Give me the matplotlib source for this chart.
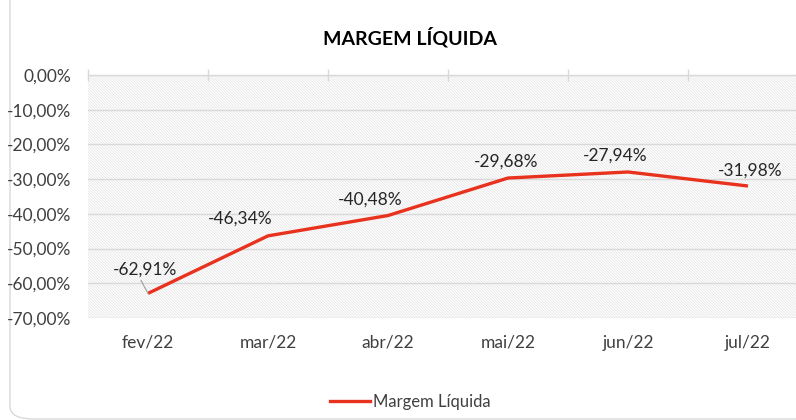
import matplotlib
matplotlib.use("Agg")
import matplotlib.pyplot as plt
from matplotlib.patches import Rectangle, FancyBboxPatch
from matplotlib.lines import Line2D

plt.rcParams['font.family'] = ['Lato', 'DejaVu Sans']
plt.rcParams['hatch.linewidth'] = 0.5

# data
meses = ['fev/22', 'mar/22', 'abr/22', 'mai/22', 'jun/22', 'jul/22']
margem = [-62.91, -46.34, -40.48, -29.68, -27.94, -31.98]
y_ticks = [0, -10, -20, -30, -40, -50, -60, -70]

# label offsets (pixels) for the data labels
offs = [(-3, 24), (-28, 17), (-18, 16), (-2, 16), (-13, 16), (2, 15)]

red = '#E8321E'
grid = '#D9D9D9'

fig = plt.figure(figsize=(7.96, 4.2), dpi=100)

# chart border
border = FancyBboxPatch((10 / 796, 1 / 420), 1.2, 407 / 420 + 0.3,
                        boxstyle='round,pad=0,rounding_size=0.03',
                        transform=fig.transFigure, facecolor='white',
                        edgecolor='#D9D9D9', linewidth=1, zorder=-10)
fig.patches.append(border)

ax = fig.add_axes([88 / 796, 102 / 420, 720 / 796, 243 / 420])
ax.set_facecolor('none')
bg = Rectangle((0, 0), 1, 1, transform=ax.transAxes, facecolor='white',
               edgecolor='#E2E2E2', hatch='\\' * 12, linewidth=0, zorder=0)
ax.add_patch(bg)

x = list(range(len(meses)))
ax.plot(x, margem, color=red, linewidth=2.4, zorder=3, solid_capstyle='butt')

for i, v in enumerate(margem):
    lab = f'{v:.2f}'.replace('.', ',') + '%'
    dx, dy = offs[i]
    ax.annotate(lab, (i, v), xytext=(dx * 0.72, dy * 0.72), textcoords='offset points',
                ha='center', va='center', fontsize=12.5, color='#262626', zorder=4)

# leader line for the first label
ax.annotate('', (0, margem[0]), xytext=(-7 * 0.72, 13 * 0.72), textcoords='offset points',
            arrowprops=dict(arrowstyle='-', color='#A6A6A6', lw=0.9, shrinkA=0, shrinkB=0))

ax.set_xlim(-0.5, len(meses) - 0.5)
ax.set_ylim(-70, 0)
ax.set_yticks(y_ticks)
ax.set_yticklabels([f'{t:.2f}'.replace('.', ',') + '%' for t in y_ticks],
                   fontsize=12.5, color='#404040')
ax.yaxis.grid(True, color=grid, linewidth=1, zorder=1)
ax.set_axisbelow(True)
ax.tick_params(axis='y', length=0, pad=12)

ax.set_xticks(x)
ax.set_xticklabels(meses, fontsize=12.5, color='#404040')
ax.tick_params(axis='x', which='major', length=0, pad=12)
ax.set_xticks([i - 0.5 for i in range(len(meses) + 1)], minor=True)
ax.tick_params(axis='x', which='minor', bottom=False, top=True, direction='inout',
               length=8, color=grid, width=1)

for s in ['left', 'right', 'bottom']:
    ax.spines[s].set_visible(False)
ax.spines['top'].set_color(grid)
ax.spines['top'].set_linewidth(1)

fig.text(410 / 796, 1 - 37 / 420, 'MARGEM LÍQUIDA', ha='center', va='center',
         fontsize=14, fontweight='bold', color='black')

handle = Line2D([], [], color=red, linewidth=2.4)
fig.legend([handle], ['Margem Líquida'], loc='center', bbox_to_anchor=(410 / 796, 1 - 402 / 420),
           frameon=False, fontsize=12, handlelength=2.4, handletextpad=0.2,
           labelcolor='#404040')

fig.savefig('out.png', dpi=100)
